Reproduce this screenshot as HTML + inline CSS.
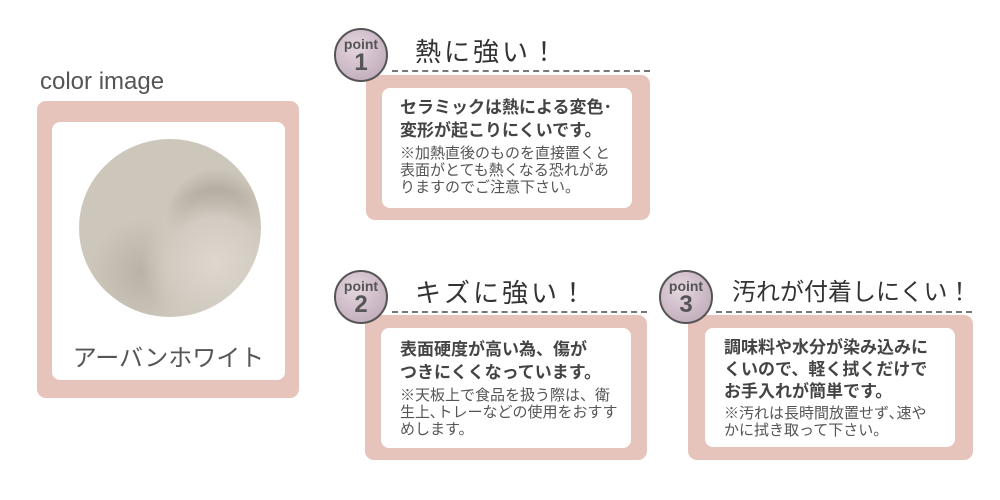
<!DOCTYPE html>
<html><head><meta charset="utf-8"><style>
body{margin:0;width:1000px;height:500px;background:#fff;position:relative;overflow:hidden;font-family:"Liberation Sans","Noto Sans CJK JP",sans-serif;color:#444}
.a{position:absolute}
.pink{background:#e6c3bb;border-radius:9px}
.white{background:#fff;border-radius:8px}
.badge{width:54px;height:54px;border-radius:50%;border:2px solid #555;background:radial-gradient(circle at 40% 35%,#e4d6de,#b9a3b3);text-align:center;color:#555;font-weight:bold;box-sizing:border-box}
.badge .p{font-size:14px;line-height:14px;margin-top:7px}
.badge .n{font-size:24px;line-height:24px}
.title{font-size:26px;line-height:30px;color:#333;white-space:nowrap}
.dash{border-top:2px dashed #777;height:0}
.b{font-weight:bold;font-size:17px;line-height:23px;color:#444;white-space:nowrap}
.s{font-size:15px;line-height:17px;color:#555;white-space:nowrap}
</style></head><body>
<div class="a" style="left:40px;top:68px;font-size:24px;color:#555">color image</div>
<div class="a pink" style="left:37px;top:101px;width:262px;height:297px"></div>
<div class="a white" style="left:52px;top:122px;width:233px;height:258px"></div>
<div class="a" style="left:79px;top:139px;width:182px;height:178px;border-radius:50%;background:radial-gradient(circle at 75% 70%,#ddd7cf 0,#d2cbc1 25%,transparent 40%),radial-gradient(circle at 75% 45%,#a9a297 0,#b5aea3 18%,transparent 30%),radial-gradient(circle at 35% 75%,#b9b2a6 0,transparent 30%),#cdc6bb"></div>
<div class="a" style="left:52px;top:338px;width:233px;text-align:center;font-size:24px;color:#555">アーバンホワイト</div>

<!-- point 1 -->
<div class="a dash" style="left:392px;top:70px;width:258px"></div>
<div class="a pink" style="left:366px;top:75px;width:284px;height:145px"></div>
<div class="a white" style="left:382px;top:88px;width:250px;height:120px"></div>
<div class="a badge" style="left:334px;top:28px"><div class="p">point</div><div class="n">1</div></div>
<div class="a title" style="left:415px;top:37px;letter-spacing:3px">熱に強い！</div>
<div class="a" style="left:400px;top:96px"><div class="b">セラミックは熱による変色･<br>変形が起こりにくいです。</div><div class="s" style="margin-top:3px">※加熱直後のものを直接置くと<br>表面がとても熱くなる恐れがあ<br>りますのでご注意下さい。</div></div>

<!-- point 2 -->
<div class="a dash" style="left:392px;top:311px;width:255px"></div>
<div class="a pink" style="left:365px;top:315px;width:282px;height:145px"></div>
<div class="a white" style="left:381px;top:328px;width:250px;height:120px"></div>
<div class="a badge" style="left:334px;top:270px"><div class="p">point</div><div class="n">2</div></div>
<div class="a title" style="left:415px;top:278px;letter-spacing:3px">キズに強い！</div>
<div class="a" style="left:400px;top:338px"><div class="b">表面硬度が高い為、傷が<br>つきにくくなっています。</div><div class="s" style="margin-top:3px">※天板上で食品を扱う際は、衛<br>生上､トレーなどの使用をおすす<br>めします。</div></div>

<!-- point 3 -->
<div class="a dash" style="left:716px;top:311px;width:256px"></div>
<div class="a pink" style="left:688px;top:315px;width:285px;height:145px"></div>
<div class="a white" style="left:705px;top:328px;width:250px;height:119px"></div>
<div class="a badge" style="left:659px;top:270px"><div class="p">point</div><div class="n">3</div></div>
<div class="a title" style="left:732px;top:278px;font-size:24px">汚れが付着しにくい！</div>
<div class="a" style="left:724px;top:337px"><div class="b" style="line-height:22px">調味料や水分が染み込みに<br>くいので、軽く拭くだけで<br>お手入れが簡単です。</div><div class="s" style="margin-top:2px">※汚れは長時間放置せず､速や<br>かに拭き取って下さい。</div></div>
</body></html>
